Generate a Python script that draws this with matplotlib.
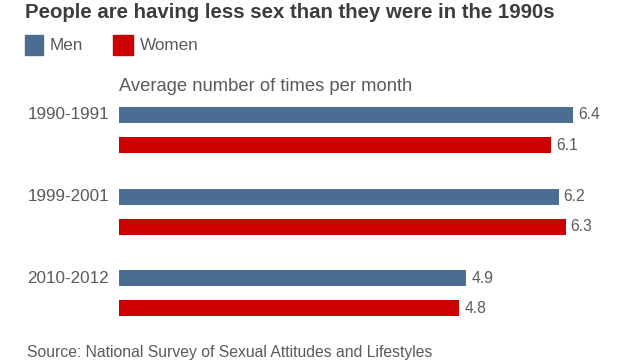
import matplotlib
matplotlib.use("Agg")
import matplotlib.pyplot as plt
import numpy as np
from matplotlib.patches import Rectangle

plt.rcParams["font.family"] = ["Liberation Sans", "DejaVu Sans"]

# ── Data ─────────────────────────────────────────────────────────────────────
periods = ["1990-1991", "1999-2001", "2010-2012"]
men     = [6.4, 6.2, 4.9]
women   = [6.1, 6.3, 4.8]

MEN_COL   = "#4a6e92"
WOMEN_COL = "#cc0000"
TEXT_COL  = "#5a5a5a"

W, H = 640, 360
fig = plt.figure(figsize=(W / 100, H / 100), dpi=100)
fig.patch.set_facecolor("white")


def fx(px):
    return px / W


def fy(py):
    return 1 - py / H


# axes placed in pixel terms: left edge at 119 px, y from 100 to 325 px
ax = fig.add_axes([fx(119), fy(325), 500 / W, 225 / H])
group = np.arange(len(periods))
off, h = 0.184, 0.196
px_per_unit = 70.9

ax.barh(group - off, men,   height=h, color=MEN_COL)
ax.barh(group + off, women, height=h, color=WOMEN_COL)

for g, m, w in zip(group, men, women):
    ax.text(m + 5 / px_per_unit, g - off, f"{m}", va="center", ha="left",
            fontsize=11.3, color=TEXT_COL)
    ax.text(w + 5 / px_per_unit, g + off, f"{w}", va="center", ha="left",
            fontsize=11.3, color=TEXT_COL)
    ax.text(-10 / px_per_unit, g - off, periods[g], va="center", ha="right",
            fontsize=12.3, color=TEXT_COL)

ax.set_xlim(0, 500 / px_per_unit)
ax.set_ylim(2.387, -0.367)
ax.axis("off")

# ── Header / legend / footer ─────────────────────────────────────────────────
fig.text(fx(25), fy(18), "People are having less sex than they were in the 1990s",
         fontsize=14.7, fontweight="bold", color="#3c3c3c", va="baseline", ha="left")

fig.patches.append(Rectangle((fx(25), fy(55)), 18 / W, 20 / H,
                             transform=fig.transFigure, color=MEN_COL))
fig.text(fx(50), fy(45), "Men", fontsize=12.3, color=TEXT_COL, va="center")
fig.patches.append(Rectangle((fx(113), fy(55)), 20 / W, 20 / H,
                             transform=fig.transFigure, color=WOMEN_COL))
fig.text(fx(140), fy(45), "Women", fontsize=12.3, color=TEXT_COL, va="center")

fig.text(fx(119), fy(91), "Average number of times per month",
         fontsize=13.2, color=TEXT_COL, va="baseline")

fig.text(fx(27), fy(357), "Source: National Survey of Sexual Attitudes and Lifestyles",
         fontsize=11.3, color=TEXT_COL, va="baseline")

fig.savefig("out.png", dpi=100, facecolor="white")
